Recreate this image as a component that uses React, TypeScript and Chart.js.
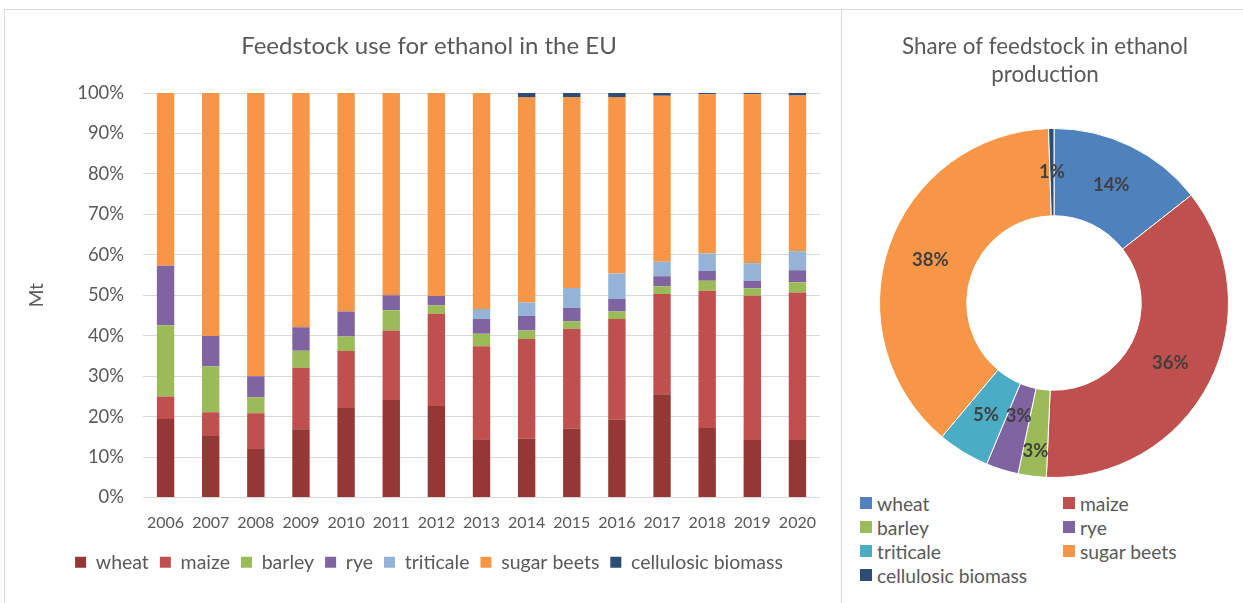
import React, { useEffect, useRef } from "react";
import { Chart, registerables } from "chart.js";

Chart.register(...registerables);

const FONT = "Lato, 'Open Sans', sans-serif";
const TEXT = "#595959";

const years = ["2006", "2007", "2008", "2009", "2010", "2011", "2012", "2013", "2014", "2015", "2016", "2017", "2018", "2019", "2020"];
const seriesNames = ["wheat", "maize", "barley", "rye", "triticale", "sugar beets", "cellulosic biomass"];

const wheat = [19.4, 15.2, 12.0, 16.9, 22.1, 24.1, 22.6, 14.4, 14.6, 17.0, 19.2, 25.5, 17.2, 14.2, 14.2];
const maize = [5.6, 5.9, 8.8, 15.2, 14.1, 17.2, 22.8, 23.0, 24.6, 24.7, 24.9, 24.8, 33.9, 35.7, 36.5];
const barley = [17.6, 11.3, 4.0, 4.2, 3.6, 5.0, 2.1, 3.1, 2.1, 1.9, 1.9, 1.9, 2.5, 1.8, 2.5];
const rye = [14.7, 7.5, 5.2, 5.8, 6.2, 3.7, 2.3, 3.6, 3.6, 3.3, 3.1, 2.5, 2.4, 1.9, 3.0];
const triticale = [0, 0, 0, 0, 0, 0, 0, 2.5, 3.3, 4.9, 6.3, 3.6, 4.3, 4.3, 4.7];
const sugarBeets = [42.7, 60.1, 70.0, 57.9, 54.0, 50.0, 50.2, 53.4, 50.8, 47.2, 43.6, 41.0, 39.4, 41.8, 38.5];
const cellulosic = [0, 0, 0, 0, 0, 0, 0, 0, 1.0, 1.0, 1.0, 0.7, 0.3, 0.3, 0.6];

const barSeries = [wheat, maize, barley, rye, triticale, sugarBeets, cellulosic];
const barColors = ["#953735", "#C0504D", "#9BBB59", "#8064A2", "#95B3D7", "#F79646", "#2C4D75"];

const pieShares = [14.4, 36.3, 2.6, 3.0, 4.8, 38.4, 0.5];
const pieColors = ["#4F81BD", "#C0504D", "#9BBB59", "#8064A2", "#4BACC6", "#F79646", "#2C4D75"];

const barTitle = "Feedstock use for ethanol in the EU";
const pieTitle = ["Share of feedstock in ethanol", "production"];

const pieLabelPlugin = {
  id: "pieLabels",
  afterDatasetsDraw(chart: any) {
    const ctx = chart.ctx;
    const meta = chart.getDatasetMeta(0);
    const data = chart.data.datasets[0].data as number[];
    const total = data.reduce((a, b) => a + b, 0);
    ctx.save();
    ctx.font = `bold 18.5px ${FONT}`;
    ctx.fillStyle = "#404040";
    ctx.textAlign = "center";
    ctx.textBaseline = "middle";
    const placed: any[] = [];
    meta.data.forEach((arc: any, i: number) => {
      const p = arc.getProps(["x", "y", "startAngle", "endAngle", "innerRadius", "outerRadius"], true);
      const mid = (p.startAngle + p.endAngle) / 2;
      const r = (p.innerRadius + p.outerRadius) / 2;
      const text = Math.round((data[i] / total) * 100) + "%";
      const w = ctx.measureText(text).width;
      placed.push({ cx: p.x, cy: p.y, mid, r, text, w });
    });
    const pos = (l: any) => ({ x: l.cx + Math.cos(l.mid) * l.r, y: l.cy + Math.sin(l.mid) * l.r });
    for (let i = 1; i < placed.length; i++) {
      const a = pos(placed[i - 1]);
      const b = pos(placed[i]);
      if (Math.abs(a.x - b.x) < (placed[i - 1].w + placed[i].w) / 2 && Math.abs(a.y - b.y) < 18) {
        placed[i - 1].r += 18;
        placed[i].r -= 12;
      }
    }
    placed.forEach((l) => {
      const q = pos(l);
      ctx.fillText(l.text, q.x, q.y);
    });
    ctx.restore();
  },
};

// the doughnut sits a little right of the centred title, as in the reference
const pieShiftPlugin = {
  id: "pieShift",
  afterLayout(chart: any) {
    chart.chartArea.left += 9;
    chart.chartArea.right += 9;
  },
};

function BarChart() {
  const ref = useRef<HTMLCanvasElement>(null);
  useEffect(() => {
    const chart = new Chart(ref.current!, {
      type: "bar",
      data: {
        labels: years,
        datasets: barSeries.map((d, i) => ({
          label: seriesNames[i],
          data: d,
          backgroundColor: barColors[i],
          borderWidth: 0,
          barPercentage: 0.385,
          categoryPercentage: 1,
        })),
      },
      options: {
        responsive: false,
        animation: false,
        layout: { padding: { left: 34, right: 21, top: 0, bottom: 21 } },
        plugins: {
          title: {
            display: true,
            text: barTitle,
            color: TEXT,
            font: { family: FONT, size: 24, weight: "normal", lineHeight: 1.2 },
            padding: { top: 22.6, bottom: 32.6 },
          },
          legend: {
            position: "bottom",
            labels: {
              boxWidth: 11,
              boxHeight: 11,
              color: TEXT,
              font: { family: FONT, size: 19.5 },
              padding: 11,
            },
          },
          tooltip: { enabled: false },
        },
        scales: {
          x: {
            stacked: true,
            grid: { display: false },
            border: { display: false },
            ticks: { color: TEXT, font: { family: FONT, size: 16 }, padding: 7.5 },
            afterFit: (s: any) => {
              s.height = 44;
            },
          },
          y: {
            stacked: true,
            min: 0,
            max: 100,
            ticks: {
              stepSize: 10,
              callback: (v: any) => v + "%",
              color: TEXT,
              font: { family: FONT, size: 18.4 },
              padding: 19,
            },
            grid: { color: "#d9d9d9", drawTicks: false },
            border: { display: false },
            title: {
              display: true,
              text: "Mt",
              color: TEXT,
              font: { family: FONT, size: 19 },
              padding: { top: -12.7, bottom: 0 },
            },
            afterFit: (s: any) => {
              s.width = 105;
            },
          },
        },
      },
    } as any);
    return () => chart.destroy();
  }, []);
  return <canvas ref={ref} width={837} height={594} style={{ position: "absolute", left: 4, top: 9, width: 837, height: 594 }} />;
}

function PieChart() {
  const ref = useRef<HTMLCanvasElement>(null);
  useEffect(() => {
    const chart = new Chart(ref.current!, {
      type: "doughnut",
      data: {
        labels: seriesNames,
        datasets: [
          {
            data: pieShares,
            backgroundColor: pieColors,
            borderColor: "#ffffff",
            borderWidth: 1,
          },
        ],
      },
      options: {
        responsive: false,
        animation: false,
        cutout: "50%",
        layout: { padding: { left: 23, right: 23, top: 0, bottom: 11 } },
        plugins: {
          title: {
            display: true,
            text: pieTitle,
            color: TEXT,
            font: { family: FONT, size: 22.4, weight: "normal", lineHeight: 1.25 },
            padding: { top: 24, bottom: 39 },
          },
          legend: { display: false },
          tooltip: { enabled: false },
        },
      },
      plugins: [pieShiftPlugin, pieLabelPlugin],
    } as any);
    return () => chart.destroy();
  }, []);
  return <canvas ref={ref} width={396} height={480} style={{ position: "absolute", left: 847, top: 9, width: 396, height: 480 }} />;
}

function PieLegend() {
  return (
    <div
      style={{
        position: "absolute",
        left: 860,
        top: 491,
        width: 380,
        display: "grid",
        gridTemplateColumns: "203px 177px",
        gridAutoRows: "24px",
        fontFamily: FONT,
        fontSize: 19.3,
        color: TEXT,
      }}
    >
      {seriesNames.map((n, i) => (
        <div key={n} style={{ display: "flex", alignItems: "center", whiteSpace: "nowrap" }}>
          <span style={{ display: "inline-block", width: 12, height: 12, background: pieColors[i], marginRight: 5, flex: "none" }} />
          <span>{n}</span>
        </div>
      ))}
    </div>
  );
}

export default function App() {
  return (
    <div style={{ position: "fixed", left: 0, top: 0, width: 1243, height: 603, background: "#ffffff", overflow: "hidden" }}>
      <div style={{ position: "absolute", left: 4, top: 9, width: 1245, height: 600, border: "1px solid #d9d9d9", boxSizing: "border-box" }} />
      <div style={{ position: "absolute", left: 841, top: 9, width: 1, height: 600, background: "#d9d9d9" }} />
      <BarChart />
      <PieChart />
      <PieLegend />
    </div>
  );
}
